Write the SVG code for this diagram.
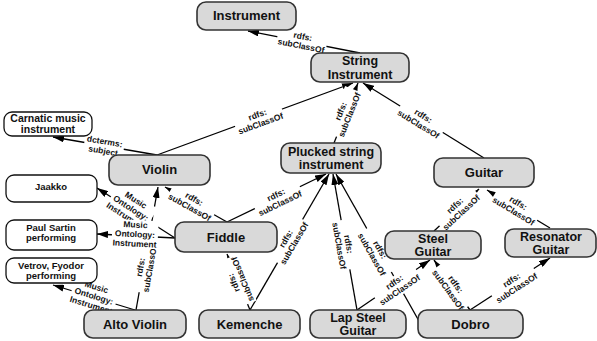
<svg xmlns="http://www.w3.org/2000/svg" width="597" height="341" viewBox="0 0 597 341">
<defs>
<style>
.e line{stroke:#000;stroke-width:1.3;marker-end:url(#ah)}
.lb rect{fill:#fff}
.lb text{font-family:"Liberation Sans",Arial,sans-serif;font-weight:bold;font-size:8.5px;text-anchor:middle;fill:#111}
.g rect{fill:#d9d9d9;stroke:#333;stroke-width:1.6}
.w rect{fill:#fff;stroke:#111;stroke-width:1.3}
.g text{font-family:"Liberation Sans",Arial,sans-serif;font-weight:bold;font-size:13px;text-anchor:middle;fill:#111}
.g text.t2{font-size:12.5px}
.w text{font-family:"Liberation Sans",Arial,sans-serif;font-weight:bold;font-size:9.5px;text-anchor:middle;fill:#111}
</style>
<marker id="ah" viewBox="0 0 11 7" refX="11" refY="3.5" markerWidth="11" markerHeight="7" markerUnits="userSpaceOnUse" orient="auto"><path d="M0,0 L11,3.5 L0,7 z" fill="#000"/></marker>
</defs>
<rect width="597" height="341" fill="#fff"/>
<g id="connectors">
<g class="e">
<line x1="360" y1="53" x2="248" y2="31"/>
<line x1="157" y1="155" x2="353" y2="83"/>
<line x1="157" y1="155" x2="53" y2="137"/>
<line x1="334" y1="143" x2="358" y2="83"/>
<line x1="484" y1="158" x2="363" y2="83"/>
<line x1="227" y1="222" x2="165" y2="187"/>
<line x1="136" y1="310" x2="158" y2="187"/>
<line x1="227" y1="222" x2="326" y2="174"/>
<line x1="175" y1="238" x2="97" y2="188"/>
<line x1="175" y1="238" x2="97" y2="234"/>
<line x1="135" y1="310" x2="53" y2="285"/>
<line x1="250" y1="310" x2="227" y2="254"/>
<line x1="250" y1="310" x2="329" y2="174"/>
<line x1="357" y1="310" x2="333" y2="174"/>
<line x1="419" y1="321" x2="336" y2="174"/>
<line x1="357" y1="310" x2="430" y2="260"/>
<line x1="470" y1="310" x2="434" y2="260"/>
<line x1="470" y1="310" x2="550" y2="258"/>
<line x1="434" y1="231" x2="479" y2="189"/>
<line x1="550" y1="228" x2="487" y2="190"/>
</g>
<g class="lb">
<g transform="translate(302,41) rotate(11.1)"><rect x="-25" y="-10" width="50" height="20"/><text y="-1.7">rdfs:</text><text y="7.8">subClassOf</text></g>
<g transform="translate(259,119) rotate(-20.2)"><rect x="-25" y="-10" width="50" height="20"/><text y="-1.7">rdfs:</text><text y="7.8">subClassOf</text></g>
<g transform="translate(104,146) rotate(9.8)"><rect x="-20" y="-10" width="40" height="20"/><text y="-1.7">dcterms:</text><text y="7.8">subject</text></g>
<g transform="translate(345,113) rotate(-68)"><rect x="-25" y="-10" width="50" height="20"/><text y="-1.7">rdfs:</text><text y="7.8">subClassOf</text></g>
<g transform="translate(421,120) rotate(31.8)"><rect x="-25" y="-10" width="50" height="20"/><text y="-1.7">rdfs:</text><text y="7.8">subClassOf</text></g>
<g transform="translate(192,203) rotate(29.4)"><rect x="-25" y="-10" width="50" height="20"/><text y="-1.7">rdfs:</text><text y="7.8">subClassOf</text></g>
<g transform="translate(145,268) rotate(-79.9)"><rect x="-25" y="-10" width="50" height="20"/><text y="-1.7">rdfs:</text><text y="7.8">subClassOf</text></g>
<g transform="translate(278,199) rotate(-25.9)"><rect x="-25" y="-10" width="50" height="20"/><text y="-1.7">rdfs:</text><text y="7.8">subClassOf</text></g>
<g transform="translate(131,208) rotate(32.7)"><rect x="-23" y="-14" width="46" height="28"/><text y="-6.4">Music</text><text y="3.1">Ontology:</text><text y="12.6">Instrument</text></g>
<g transform="translate(135,234) rotate(2.9)"><rect x="-23" y="-14" width="46" height="28"/><text y="-6.4">Music</text><text y="3.1">Ontology:</text><text y="12.6">Instrument</text></g>
<g transform="translate(94,296) rotate(17)"><rect x="-23" y="-14" width="46" height="28"/><text y="-6.4">Music</text><text y="3.1">Ontology:</text><text y="12.6">Instrument</text></g>
<g transform="translate(238,281) rotate(-112)"><rect x="-25" y="-10" width="50" height="20"/><text y="-1.7">rdfs:</text><text y="7.8">subClassOf</text></g>
<g transform="translate(290,241) rotate(-59.8)"><rect x="-25" y="-10" width="50" height="20"/><text y="-1.7">rdfs:</text><text y="7.8">subClassOf</text></g>
<g transform="translate(344,245) rotate(80)"><rect x="-25" y="-10" width="50" height="20"/><text y="-1.7">rdfs:</text><text y="7.8">subClassOf</text></g>
<g transform="translate(376,252) rotate(60.5)"><rect x="-25" y="-10" width="50" height="20"/><text y="-1.7">rdfs:</text><text y="7.8">subClassOf</text></g>
<g transform="translate(397,286) rotate(-34.4)"><rect x="-25" y="-10" width="50" height="20"/><text y="-1.7">rdfs:</text><text y="7.8">subClassOf</text></g>
<g transform="translate(452,287) rotate(54.2)"><rect x="-25" y="-10" width="50" height="20"/><text y="-1.7">rdfs:</text><text y="7.8">subClassOf</text></g>
<g transform="translate(514,284) rotate(-33)"><rect x="-25" y="-10" width="50" height="20"/><text y="-1.7">rdfs:</text><text y="7.8">subClassOf</text></g>
<g transform="translate(458,209) rotate(-43)"><rect x="-25" y="-10" width="50" height="20"/><text y="-1.7">rdfs:</text><text y="7.8">subClassOf</text></g>
<g transform="translate(516,207) rotate(31.1)"><rect x="-25" y="-10" width="50" height="20"/><text y="-1.7">rdfs:</text><text y="7.8">subClassOf</text></g>
</g>
</g>
<g id="n-instrument" class="g"><rect x="197" y="2" width="99" height="28" rx="9"/><text x="246.5" y="20">Instrument</text></g>
<g id="n-string" class="g"><rect x="311" y="53" width="98" height="29" rx="9"/><text class="t2" x="360" y="65.3">String</text><text class="t2" x="360" y="78.8">Instrument</text></g>
<g id="n-carnatic" class="w"><rect x="4" y="112" width="88" height="24" rx="8"/><text x="48" y="121.5" style="font-size:10.5px">Carnatic music</text><text x="48" y="133" style="font-size:10.5px">instrument</text></g>
<g id="n-violin" class="g"><rect x="109" y="155" width="101" height="30" rx="9"/><text x="159.5" y="174">Violin</text></g>
<g id="n-plucked" class="g"><rect x="281" y="143" width="100" height="30" rx="9"/><text class="t2" x="331" y="155.8">Plucked string</text><text class="t2" x="331" y="169.3">instrument</text></g>
<g id="n-guitar" class="g"><rect x="434" y="158" width="100" height="29" rx="9"/><text x="484" y="177">Guitar</text></g>
<g id="n-jaakko" class="w"><rect x="6" y="175" width="91" height="27" rx="8"/><text x="51" y="190">Jaakko</text></g>
<g id="n-paul" class="w"><rect x="6" y="220" width="91" height="30" rx="8"/><text x="51" y="231">Paul Sartin</text><text x="51" y="241">performing</text></g>
<g id="n-vetrov" class="w"><rect x="6" y="258" width="91" height="25" rx="8"/><text x="51" y="269">Vetrov, Fyodor</text><text x="51" y="279">performing</text></g>
<g id="n-fiddle" class="g"><rect x="175" y="222" width="102" height="30" rx="9"/><text x="226" y="241.5">Fiddle</text></g>
<g id="n-alto" class="g"><rect x="84" y="310" width="102" height="28" rx="9"/><text x="135" y="328.5">Alto Violin</text></g>
<g id="n-kemenche" class="g"><rect x="199" y="310" width="101" height="28" rx="9"/><text x="249.5" y="328.5">Kemenche</text></g>
<g id="n-lapsteel" class="g"><rect x="310" y="310" width="96" height="28" rx="9"/><text class="t2" x="358" y="321.8">Lap Steel</text><text class="t2" x="358" y="335.3">Guitar</text></g>
<g id="n-dobro" class="g"><rect x="418" y="310" width="105" height="28" rx="9"/><text x="470.5" y="328.5">Dobro</text></g>
<g id="n-steel" class="g"><rect x="385" y="231" width="96" height="28" rx="9"/><text class="t2" x="433" y="242.8">Steel</text><text class="t2" x="433" y="256.3">Guitar</text></g>
<g id="n-resonator" class="g"><rect x="505" y="229" width="91" height="28" rx="9"/><text class="t2" x="551" y="240.8">Resonator</text><text class="t2" x="551" y="254.3">Guitar</text></g>
</svg>
